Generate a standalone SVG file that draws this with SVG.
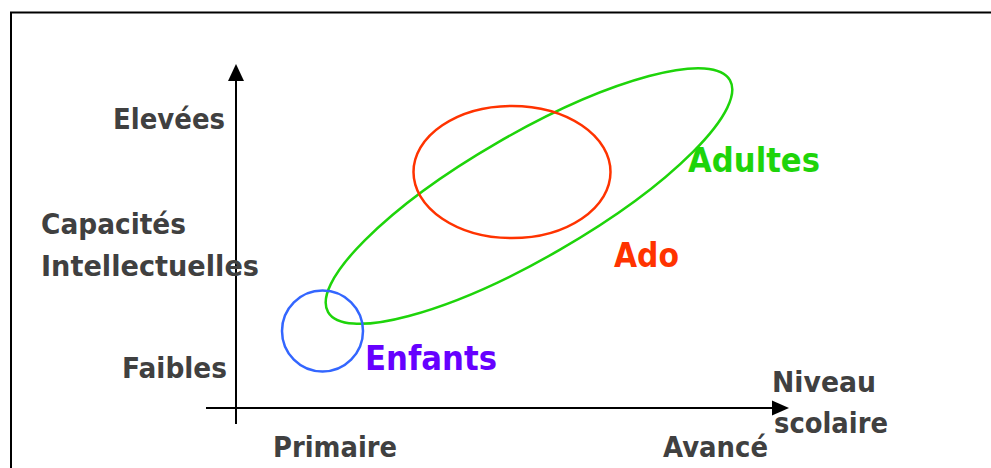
<svg xmlns="http://www.w3.org/2000/svg" width="991" height="468" viewBox="0 0 991 468">
<style>
.lbl{font-family:"Comic Sans MS","DejaVu Sans","Liberation Sans",sans-serif;font-weight:bold;fill:#404040;font-size:29px}
.big{font-family:"Comic Sans MS","DejaVu Sans","Liberation Sans",sans-serif;font-weight:bold;font-size:34px}
.axis{stroke:#000;stroke-width:2;fill:none}
</style>
<defs>
<marker id="arr" markerWidth="10" markerHeight="10" refX="9" refY="5" orient="auto" markerUnits="userSpaceOnUse" viewBox="0 0 10 10">
<path d="M0,0 L10,5 L0,10 Z" fill="#000"/>
</marker>
</defs>
<rect width="991" height="468" fill="#fff"/>
<rect x="11" y="12.5" width="1000" height="500" fill="none" stroke="#000" stroke-width="2"/>
<g id="connectors">
<line class="axis" x1="236" y1="424" x2="236" y2="80"/>
<path d="M236,64 L244,81 L228,81 Z" fill="#000"/>
<line class="axis" x1="206" y1="408" x2="774" y2="408"/>
<path d="M789,408 L772,400.5 L772,415.5 Z" fill="#000"/>
</g>
<g id="adultes">
<ellipse cx="529" cy="196" rx="232" ry="62" transform="rotate(-30 529 196)" fill="none" stroke="#1ed40a" stroke-width="2.5"/>
<text class="big" x="688" y="172" fill="#1ed40a" textLength="132" lengthAdjust="spacingAndGlyphs">Adultes</text>
</g>
<g id="ado">
<ellipse cx="512" cy="172" rx="98.5" ry="66" fill="none" stroke="#ff3300" stroke-width="2.5"/>
<text class="big" x="614" y="267" fill="#ff3300" textLength="65" lengthAdjust="spacingAndGlyphs">Ado</text>
</g>
<g id="enfants">
<circle cx="322.5" cy="331" r="40.5" fill="none" stroke="#3366ff" stroke-width="2.5"/>
<text class="big" x="365" y="370" fill="#6600ff" textLength="132" lengthAdjust="spacingAndGlyphs">Enfants</text>
</g>
<g id="labels">
<text class="lbl" x="113" y="129" textLength="112" lengthAdjust="spacingAndGlyphs">Elevées</text>
<text class="lbl" x="41" y="234" textLength="145" lengthAdjust="spacingAndGlyphs">Capacités</text>
<text class="lbl" x="41" y="276" textLength="218" lengthAdjust="spacingAndGlyphs">Intellectuelles</text>
<text class="lbl" x="122" y="378" textLength="105" lengthAdjust="spacingAndGlyphs">Faibles</text>
<text class="lbl" x="273" y="457" textLength="124" lengthAdjust="spacingAndGlyphs">Primaire</text>
<text class="lbl" x="663" y="457" textLength="105" lengthAdjust="spacingAndGlyphs">Avancé</text>
<text class="lbl" x="772" y="392" textLength="104" lengthAdjust="spacingAndGlyphs">Niveau</text>
<text class="lbl" x="774" y="433" textLength="114" lengthAdjust="spacingAndGlyphs">scolaire</text>
</g>
</svg>
